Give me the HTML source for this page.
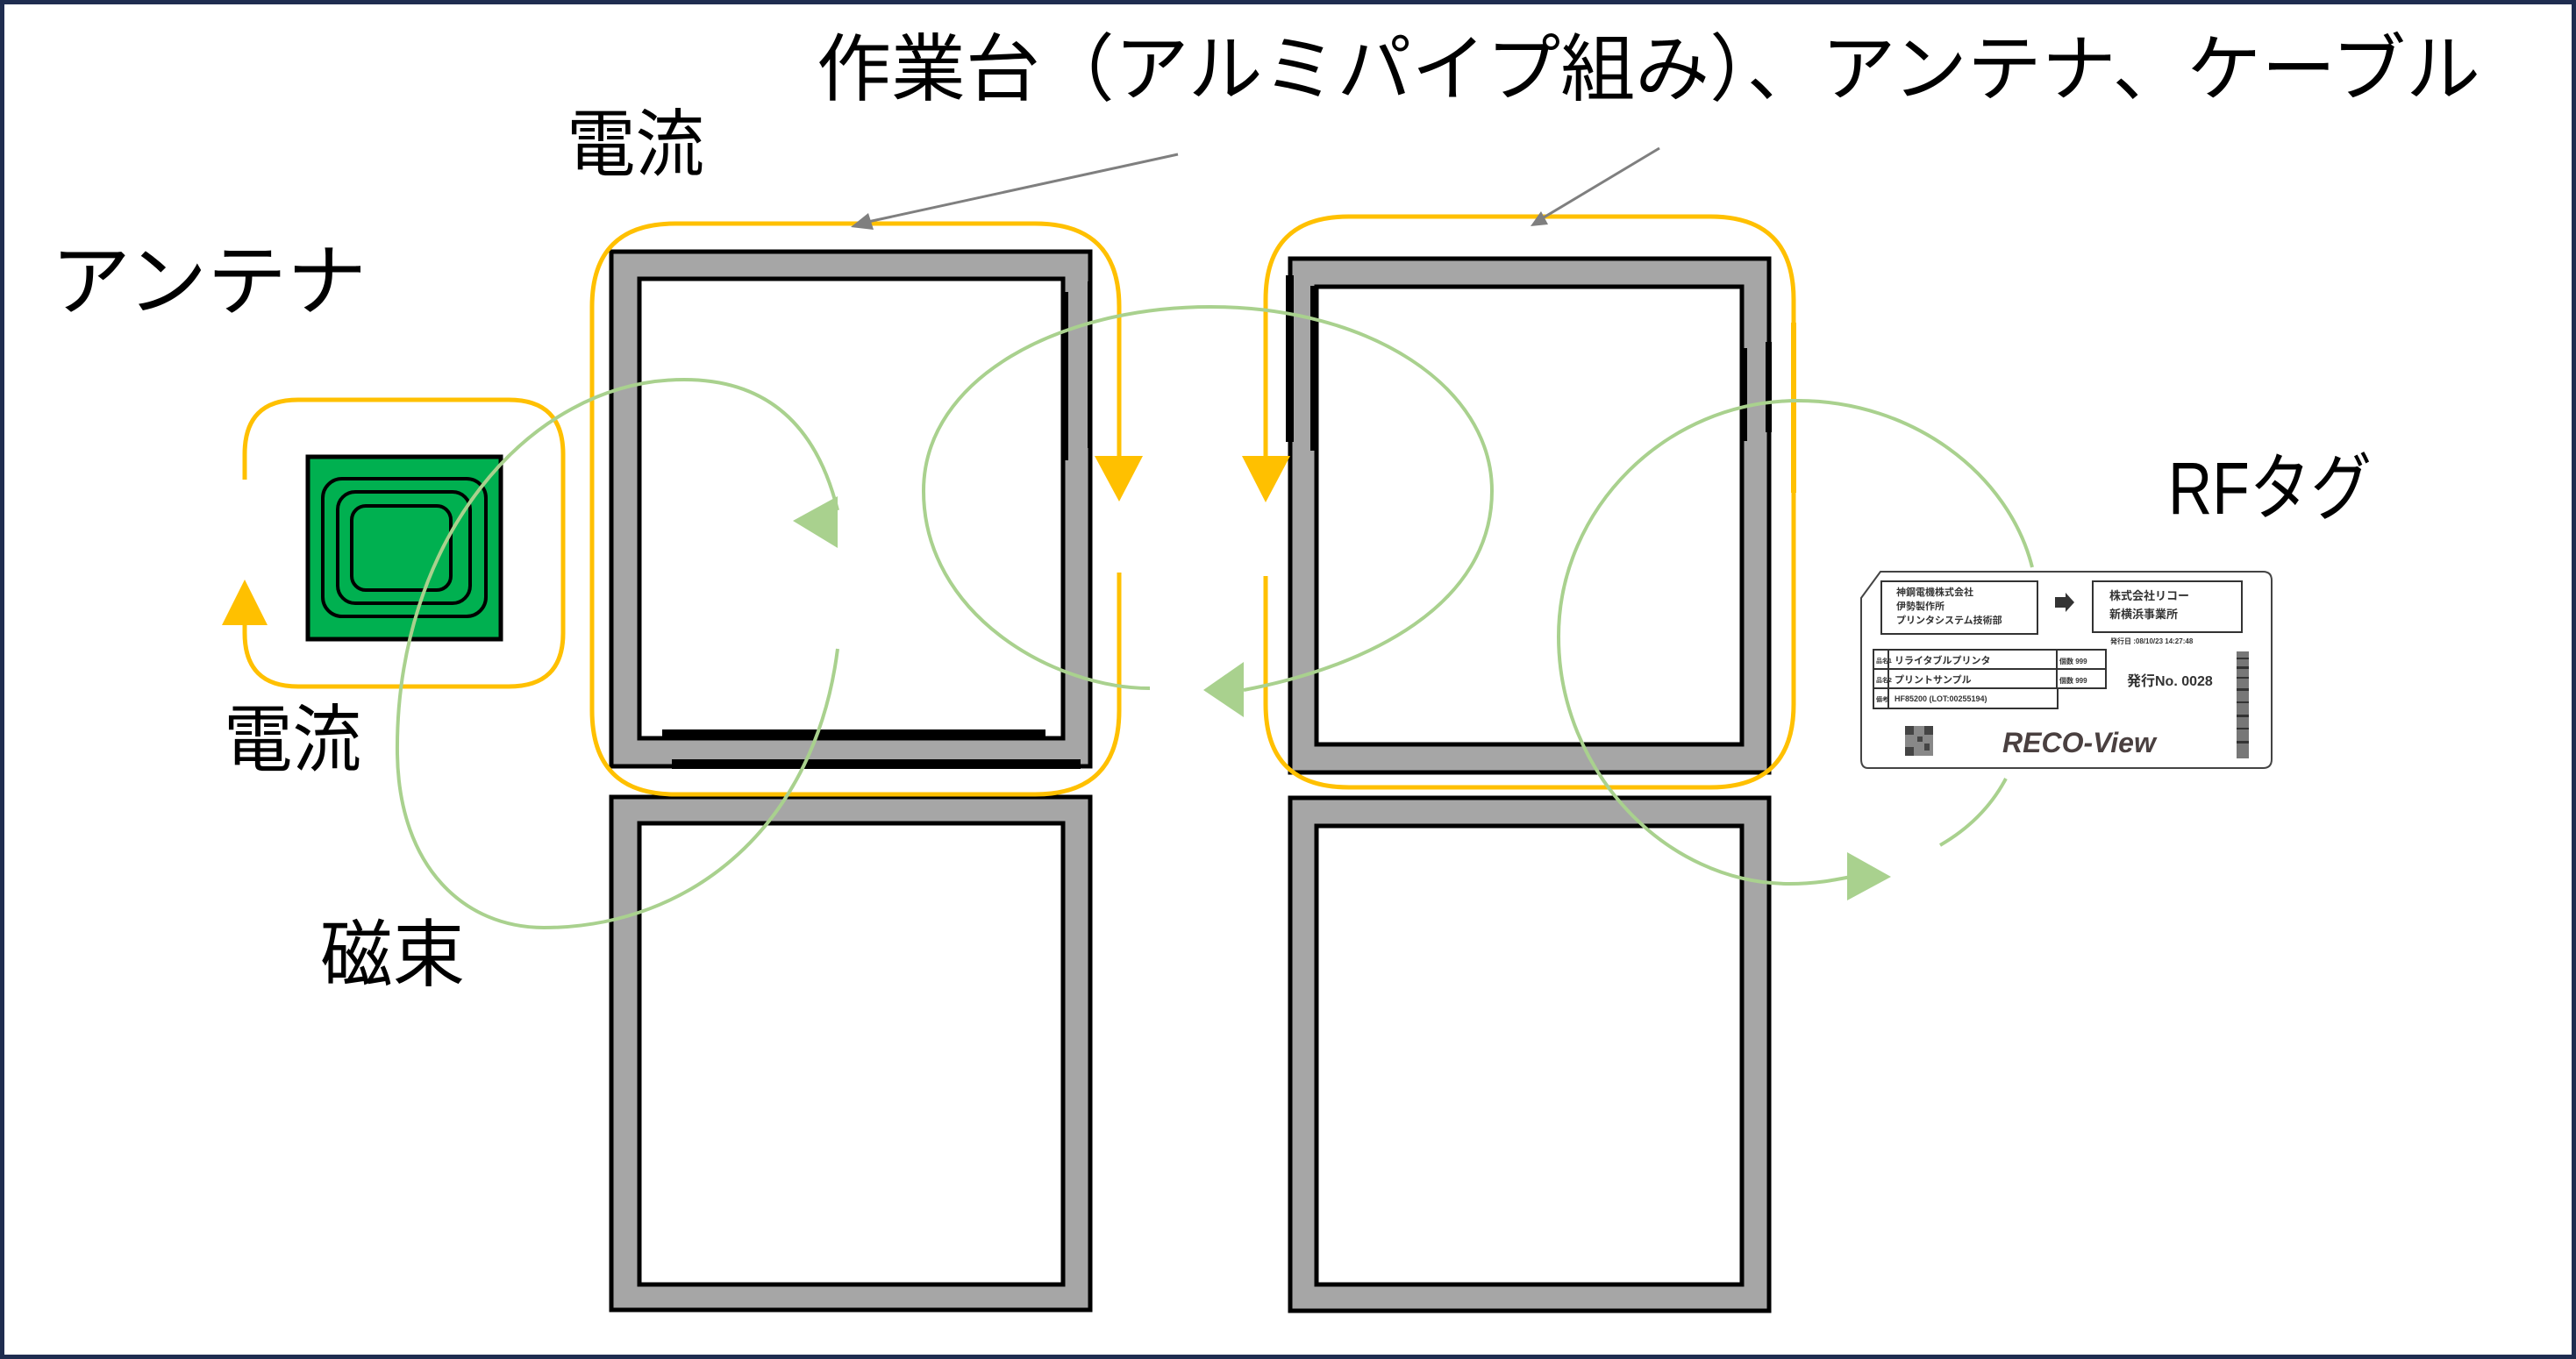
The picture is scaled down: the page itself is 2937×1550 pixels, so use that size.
<!DOCTYPE html>
<html><head><meta charset="utf-8"><style>
html,body{margin:0;padding:0;background:#fff}
svg{display:block}
text{font-family:"Liberation Sans","Noto Sans CJK JP",sans-serif;}
</style></head><body>
<svg width="2937" height="1550" viewBox="0 0 2937 1550" xmlns="http://www.w3.org/2000/svg">
<rect x="2.5" y="2.5" width="2932" height="1545" fill="#fff" stroke="#1F2D50" stroke-width="5"/>

<!-- frames -->
<g stroke="#000" stroke-width="5">
<rect x="697" y="287" width="546" height="587" fill="#a6a6a6"/>
<rect x="729" y="318" width="483" height="524" fill="#fff"/>
<rect x="697" y="909" width="546" height="585" fill="#a6a6a6"/>
<rect x="729" y="939" width="483" height="526" fill="#fff"/>
<rect x="1471" y="295" width="546" height="586" fill="#a6a6a6"/>
<rect x="1501" y="327" width="485" height="522" fill="#fff"/>
<rect x="1471" y="910" width="546" height="585" fill="#a6a6a6"/>
<rect x="1501" y="942" width="485" height="523" fill="#fff"/>
</g>
<g fill="#000">
<rect x="755" y="832" width="437" height="12"/>
<rect x="766" y="866" width="466" height="11"/>
<rect x="1212" y="333" width="6" height="192"/>
<rect x="1240" y="321" width="5" height="190"/>
<rect x="1466" y="314" width="9" height="190"/>
<rect x="1494" y="326" width="5" height="188"/>
<rect x="1985" y="397" width="7" height="106"/>
<rect x="2013" y="390" width="7" height="103"/>
</g>

<!-- orange loops -->
<g fill="none" stroke="#FFC000" stroke-width="5">
<path d="M1276 520 L1276 350 Q1276 255 1180 255 L770 255 Q675 255 675 350 L675 810 Q675 906 770 906 L1180 906 Q1276 906 1276 810 L1276 653"/>
<path d="M1443 520 L1443 342 Q1443 247 1538 247 L1950 247 Q2045 247 2045 342 L2045 803 Q2045 898 1950 898 L1538 898 Q1443 898 1443 803 L1443 657"/>
<path d="M279 547 L279 518 Q279 456 340 456 L580 456 Q642 456 642 518 L642 722 Q642 783 580 783 L340 783 Q279 783 279 722 L279 713"/>
</g>
<rect x="2042" y="368" width="6" height="194" fill="#FFC000"/>
<polygon points="1248,520 1303,520 1276,572" fill="#FFC000"/>
<polygon points="1416,520 1471,520 1443,573" fill="#FFC000"/>
<polygon points="253,713 305,713 279,661" fill="#FFC000"/>

<!-- antenna -->
<rect x="351" y="521" width="220" height="208" fill="#00B050" stroke="#000" stroke-width="5"/>
<g fill="none" stroke="#000" stroke-width="4">
<rect x="368" y="546" width="186" height="157" rx="22"/>
<rect x="385" y="561" width="151" height="127" rx="20"/>
<rect x="401" y="577" width="113" height="96" rx="16"/>
</g>

<!-- green flux -->
<g fill="none" stroke="#A9D18E" stroke-width="4">
<path d="M955 582 C930 480 870 433 780 433 C600 433 450 620 453 860 C455 990 530 1058 620 1058 C790 1058 930 940 955 740"/>
<path d="M1311 785 C1200 785 1053 700 1053 560 C1053 430 1210 350 1380 350 C1560 350 1701 440 1701 560 C1701 690 1560 760 1418 787"/>
<path d="M2317 647 C2290 540 2180 457 2050 457 C1900 457 1777 580 1777 726 C1777 880 1900 1008 2040 1008 C2070 1008 2090 1004 2110 1000"/>
<path d="M2287 888 C2270 920 2245 945 2212 964"/>
</g>
<g fill="#A9D18E">
<polygon points="904,594 955,566 955,625"/>
<polygon points="1372,787 1418,755 1418,818"/>
<polygon points="2106,972 2106,1027 2156,1000"/>
</g>

<!-- gray arrows -->
<g stroke="#7f7f7f" stroke-width="3">
<line x1="1343" y1="176" x2="985" y2="254"/>
<line x1="1892" y1="169" x2="1755" y2="251"/>
</g>
<g fill="#7f7f7f">
<polygon points="970,259 990,243 996,262"/>
<polygon points="1745,258 1757,241 1765,256"/>
</g>

<!-- labels -->
<g fill="#000" font-size="84">
<text x="931" y="108" textLength="1897" lengthAdjust="spacingAndGlyphs">作業台（アルミパイプ組み）、アンテナ、ケーブル</text>
<text x="646" y="194" textLength="157" lengthAdjust="spacingAndGlyphs">電流</text>
<text x="58" y="352" font-size="90" textLength="360" lengthAdjust="spacingAndGlyphs">アンテナ</text>
<text x="255" y="873" textLength="157" lengthAdjust="spacingAndGlyphs">電流</text>
<text x="365" y="1118" textLength="165" lengthAdjust="spacingAndGlyphs">磁束</text>
<text x="2472" y="586" textLength="232" lengthAdjust="spacingAndGlyphs">RFタグ</text>
</g>

<!-- RF tag card -->
<g>
<path d="M2144 652 L2580 652 Q2590 652 2590 662 L2590 866 Q2590 876 2580 876 L2130 876 Q2122 876 2122 866 L2122 682 Z" fill="#fff" stroke="#444" stroke-width="2"/>
<g fill="none" stroke="#333" stroke-width="2">
<rect x="2145" y="663" width="178" height="60"/>
<rect x="2386" y="663" width="170" height="58"/>
<rect x="2136" y="741" width="265" height="44"/>
<rect x="2136" y="785" width="210" height="23"/>
<line x1="2136" y1="763" x2="2401" y2="763"/>
<line x1="2153" y1="741" x2="2153" y2="808"/>
<line x1="2345" y1="741" x2="2345" y2="785"/>
</g>
<polygon points="2343,681 2355,681 2355,676 2365,687 2355,698 2355,693 2343,693" fill="#333"/>
<g fill="#333" font-size="11" font-weight="bold">
<text x="2162" y="679">神鋼電機株式会社</text>
<text x="2162" y="695">伊勢製作所</text>
<text x="2162" y="711">プリンタシステム技術部</text>
<text x="2405" y="684" font-size="13">株式会社リコー</text>
<text x="2405" y="705" font-size="13">新横浜事業所</text>
<text x="2406" y="734" font-size="8">発行日 :08/10/23 14:27:48</text>
<text x="2139" y="756" font-size="7">品名1</text>
<text x="2160" y="757">リライタブルプリンタ</text>
<text x="2139" y="778" font-size="7">品名2</text>
<text x="2160" y="779">プリントサンプル</text>
<text x="2139" y="800" font-size="7">備考</text>
<text x="2160" y="800" font-size="9">HF85200 (LOT:00255194)</text>
<text x="2348" y="757" font-size="8">個数 999</text>
<text x="2348" y="779" font-size="8">個数 999</text>
<text x="2425" y="782" font-size="16">発行No. 0028</text>
</g>
<text x="2283" y="858" font-size="32" font-weight="bold" font-style="italic" fill="#4a4040">RECO-View</text>
<g fill="#444">
<rect x="2172" y="828" width="32" height="34" fill="#888"/>
<rect x="2172" y="828" width="10" height="10"/><rect x="2194" y="828" width="10" height="10"/><rect x="2172" y="852" width="10" height="10"/>
<rect x="2186" y="840" width="6" height="6"/><rect x="2194" y="848" width="6" height="8"/>
</g>
<g fill="#333">
<rect x="2550" y="743" width="14" height="122" fill="#777"/>
<rect x="2550" y="750" width="14" height="2"/><rect x="2550" y="760" width="14" height="3"/><rect x="2550" y="772" width="14" height="2"/><rect x="2550" y="785" width="14" height="3"/><rect x="2550" y="800" width="14" height="2"/><rect x="2550" y="815" width="14" height="3"/><rect x="2550" y="830" width="14" height="2"/><rect x="2550" y="845" width="14" height="3"/>
</g>
</g>
</svg>
</body></html>
